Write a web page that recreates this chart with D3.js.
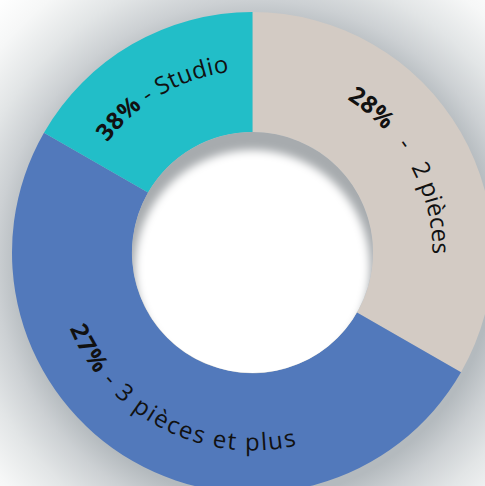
<!DOCTYPE html>
<html>
<head>
<meta charset="utf-8">
<script src="https://cdn.jsdelivr.net/npm/d3@7"></script>
<style>
  html, body { margin: 0; padding: 0; background: #fff; }
  svg { display: block; }
  .lbl { font-family: "Open Sans", sans-serif; font-size: 24px; fill: #111; white-space: pre; }
  .lbl .pct { font-weight: 700; }
</style>
</head>
<body>
<div id="chart"></div>
<script>
let svgWidth = 485;
let svgHeight = 486;

// data
let categories = ["2 pièces", "3 pièces et plus", "Studio"];
let percentLabels = ["28%", "27%", "38%"];
let ringShares = [33.3, 50, 16.7];   // share of the ring as drawn
let sliceColors = ["#d3cbc4", "#5279bb", "#22bec8"];
let separators = ["   -   ", " - ", " - "];

let cx = 252.5, cy = 252.5;
let outerR = 240.5, innerR = 120.5;

let svg = d3.select("#chart")
  .append("svg")
  .attr("width", svgWidth)
  .attr("height", svgHeight);

let defs = svg.append("defs");

// grey halo behind the ring
let haloR = 380;
let halo = defs.append("radialGradient")
  .attr("id", "halo")
  .attr("gradientUnits", "userSpaceOnUse")
  .attr("cx", cx + 5).attr("cy", cy + 10).attr("r", haloR);
[[0, "#b4babe"], [236, "#b4babe"], [262, "#ccd0d3"], [295, "#e2e5e6"], [335, "#f6f7f7"], [370, "#ffffff"]]
  .forEach(s => halo.append("stop").attr("offset", s[0] / haloR).attr("stop-color", s[1]));

svg.append("rect")
  .attr("width", svgWidth)
  .attr("height", svgHeight)
  .attr("fill", "url(#halo)");

// inner shadow for the hole
let holeBlur = defs.append("filter")
  .attr("id", "holeBlur")
  .attr("x", "-20%").attr("y", "-20%")
  .attr("width", "140%").attr("height", "140%");
holeBlur.append("feGaussianBlur").attr("stdDeviation", 4);

defs.append("clipPath").attr("id", "holeClip")
  .append("circle").attr("r", innerR);

let chartGroup = svg.append("g")
  .attr("transform", `translate(${cx}, ${cy})`);

let pie = d3.pie().sort(null).value(d => d);
let arcs = pie(ringShares);

let arc = d3.arc().innerRadius(innerR).outerRadius(outerR);

chartGroup.selectAll(".slice")
  .data(arcs)
  .enter()
  .append("path")
  .attr("class", "slice")
  .attr("d", arc)
  .attr("fill", (d, i) => sliceColors[i]);

// hole with inner shadow at the top
let hole = chartGroup.append("g").attr("clip-path", "url(#holeClip)");
hole.append("circle").attr("r", innerR).attr("fill", "#a7abae");
hole.append("circle")
  .attr("cy", 15)
  .attr("r", innerR - 3)
  .attr("fill", "#fff")
  .attr("filter", "url(#holeBlur)");

// label paths along the ring (baseline radius)
let labelR = [180, 198, 182];
let labelShift = [0.02, 0.05, 0.0];   // nudge along the arc (radians)
let labelSpacing = [0, 1.7, 0.3];
arcs.forEach((d, i) => {
  let p = d3.path();
  let mid = (d.startAngle + d.endAngle) / 2;
  let span = 2;
  let bottom = mid > Math.PI / 2 && mid < Math.PI * 1.5;
  if (bottom) {
    p.arc(0, 0, labelR[i], mid + span / 2 - Math.PI / 2, mid - span / 2 - Math.PI / 2, true);
  } else {
    p.arc(0, 0, labelR[i], mid - span / 2 - Math.PI / 2, mid + span / 2 - Math.PI / 2, false);
  }
  defs.append("path").attr("id", "lp" + i).attr("d", p.toString())
    .attr("transform", `translate(${cx}, ${cy})`);
});

let labels = chartGroup.selectAll(".lbl")
  .data(arcs)
  .enter()
  .append("text")
  .attr("class", "lbl")
  .attr("transform", `translate(${-cx}, ${-cy})`)
  .style("letter-spacing", (d, i) => labelSpacing[i] + "px")
  .append("textPath")
  .attr("href", (d, i) => "#lp" + i)
  .attr("startOffset", (d, i) => (50 + labelShift[i] / 2 * 100) + "%")
  .attr("text-anchor", "middle");

labels.append("tspan").attr("class", "pct").text((d, i) => percentLabels[i]);
labels.append("tspan").text((d, i) => separators[i] + categories[i]);
</script>
</body>
</html>
